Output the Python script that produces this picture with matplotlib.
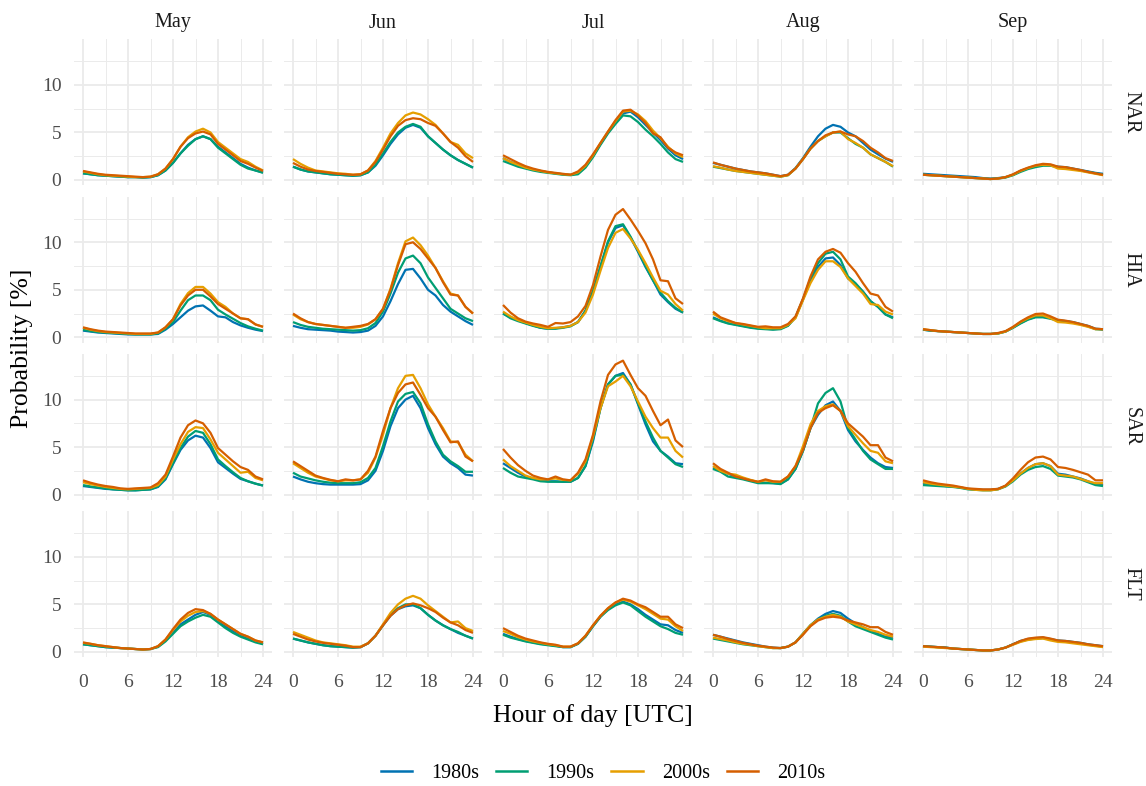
import matplotlib
matplotlib.use("Agg")
import matplotlib.pyplot as plt
from matplotlib.lines import Line2D

hours = list(range(25))
months = ["May", "Jun", "Jul", "Aug", "Sep"]
regions = ["NAR", "HIA", "SAR", "FLT"]
decades = ["1980s", "1990s", "2000s", "2010s"]
colors = ["#0072B2", "#009E73", "#E69F00", "#D55E00"]
x_ticks = [0, 6, 12, 18, 24]
y_ticks = [0, 5, 10]

# each panel: rows = 1980s, 1990s, 2000s, 2010s ; columns = hour 0..24
nar_may = [
    [0.7,0.6,0.5,0.45,0.4,0.35,0.3,0.3,0.25,0.3,0.5,1.0,1.8,2.8,3.7,4.3,4.6,4.3,3.5,2.9,2.3,1.7,1.3,1.0,0.8],
    [0.7,0.6,0.5,0.45,0.4,0.35,0.3,0.3,0.25,0.3,0.5,1.0,1.8,2.8,3.6,4.3,4.6,4.3,3.4,2.8,2.2,1.6,1.2,1.0,0.75],
    [0.9,0.75,0.6,0.5,0.45,0.4,0.35,0.3,0.3,0.35,0.6,1.2,2.2,3.5,4.5,5.1,5.4,5.0,4.0,3.4,2.8,2.2,1.9,1.4,1.0],
    [0.95,0.8,0.65,0.55,0.5,0.45,0.4,0.35,0.3,0.35,0.6,1.2,2.2,3.5,4.4,4.9,5.1,4.8,3.8,3.2,2.6,2.0,1.7,1.3,0.95],
]
nar_jun = [
    [1.4,1.1,0.9,0.8,0.7,0.6,0.55,0.5,0.45,0.5,0.8,1.5,2.6,3.8,4.8,5.5,5.8,5.5,4.6,3.9,3.2,2.6,2.1,1.7,1.3],
    [1.4,1.1,0.9,0.8,0.7,0.6,0.55,0.5,0.45,0.5,0.8,1.6,2.8,4.0,5.0,5.6,5.9,5.6,4.6,3.9,3.2,2.6,2.1,1.7,1.3],
    [2.2,1.7,1.3,1.0,0.9,0.8,0.7,0.65,0.55,0.6,1.0,2.0,3.4,4.9,6.0,6.8,7.1,6.9,6.4,5.8,4.9,4.0,3.7,2.8,2.3],
    [1.8,1.4,1.1,0.95,0.85,0.75,0.65,0.6,0.55,0.6,1.0,1.9,3.2,4.6,5.7,6.3,6.5,6.4,6.0,5.7,4.9,4.0,3.4,2.5,1.9],
]
nar_jul = [
    [2.3,1.9,1.6,1.3,1.1,0.95,0.8,0.7,0.6,0.55,0.7,1.4,2.5,3.8,5.0,6.1,7.0,7.2,6.6,5.8,5.0,4.2,3.3,2.6,2.2],
    [2.0,1.7,1.4,1.2,1.0,0.85,0.75,0.65,0.55,0.5,0.6,1.3,2.4,3.7,4.9,5.9,6.8,6.7,6.1,5.3,4.6,3.8,2.9,2.2,1.9],
    [2.3,1.9,1.6,1.3,1.1,0.95,0.8,0.7,0.6,0.55,0.8,1.5,2.6,3.9,5.1,6.2,7.2,7.3,6.9,6.2,5.2,4.4,3.5,2.8,2.4],
    [2.6,2.2,1.8,1.45,1.2,1.0,0.85,0.75,0.65,0.55,0.9,1.6,2.7,3.9,5.1,6.3,7.3,7.4,6.8,6.0,4.9,4.5,3.4,2.9,2.6],
]
nar_aug = [
    [1.8,1.6,1.4,1.2,1.05,0.9,0.8,0.7,0.55,0.4,0.55,1.25,2.3,3.5,4.6,5.4,5.8,5.6,5.0,4.6,3.9,3.2,2.7,2.25,1.9],
    [1.4,1.25,1.1,0.95,0.85,0.75,0.65,0.55,0.45,0.35,0.5,1.2,2.2,3.3,4.1,4.6,5.0,5.0,4.4,3.8,3.4,2.7,2.3,1.9,1.4],
    [1.45,1.3,1.1,0.95,0.85,0.75,0.65,0.55,0.45,0.35,0.5,1.2,2.2,3.3,4.1,4.6,5.0,5.1,4.3,3.9,3.4,2.7,2.3,1.9,1.45],
    [1.85,1.6,1.4,1.2,1.05,0.9,0.8,0.7,0.55,0.4,0.55,1.2,2.2,3.3,4.1,4.7,5.0,5.1,4.8,4.6,4.1,3.4,2.9,2.3,2.0],
]
nar_sep = [
    [0.65,0.6,0.55,0.5,0.45,0.4,0.35,0.3,0.2,0.15,0.2,0.3,0.55,0.95,1.25,1.45,1.6,1.55,1.4,1.35,1.2,1.05,0.9,0.75,0.65],
    [0.55,0.5,0.45,0.4,0.35,0.3,0.25,0.2,0.15,0.1,0.15,0.25,0.5,0.85,1.15,1.35,1.5,1.5,1.35,1.3,1.15,1.0,0.85,0.7,0.55],
    [0.55,0.5,0.45,0.4,0.35,0.3,0.25,0.2,0.15,0.1,0.15,0.3,0.55,0.95,1.25,1.5,1.6,1.55,1.2,1.15,1.05,0.95,0.8,0.65,0.5],
    [0.55,0.5,0.45,0.4,0.35,0.3,0.25,0.2,0.15,0.1,0.15,0.3,0.6,1.0,1.3,1.55,1.7,1.65,1.4,1.35,1.2,1.05,0.85,0.7,0.55],
]

hia_may = [
    [0.7,0.6,0.5,0.45,0.4,0.35,0.3,0.3,0.3,0.3,0.35,0.8,1.4,2.1,2.8,3.25,3.35,2.8,2.2,2.1,1.6,1.25,1.0,0.8,0.65],
    [0.8,0.65,0.55,0.5,0.45,0.4,0.35,0.3,0.3,0.3,0.4,0.9,1.6,2.8,3.9,4.4,4.4,3.9,2.9,2.4,1.95,1.5,1.15,0.9,0.7],
    [1.0,0.8,0.65,0.55,0.5,0.45,0.4,0.35,0.35,0.35,0.5,1.05,1.9,3.5,4.65,5.3,5.3,4.6,3.7,3.2,2.5,2.0,1.9,1.35,1.1],
    [1.05,0.85,0.7,0.6,0.55,0.5,0.45,0.4,0.4,0.4,0.5,1.05,1.9,3.35,4.4,5.0,5.0,4.3,3.5,3.0,2.5,2.0,1.9,1.35,1.1],
]
hia_jun = [
    [1.2,1.0,0.85,0.8,0.75,0.7,0.6,0.55,0.5,0.55,0.7,1.2,2.2,3.8,5.6,7.1,7.2,6.2,5.0,4.4,3.4,2.7,2.2,1.7,1.3],
    [1.6,1.3,1.1,1.0,0.9,0.85,0.8,0.75,0.7,0.75,0.95,1.5,2.7,4.6,6.8,8.3,8.6,7.8,6.3,5.2,4.1,3.0,2.5,2.0,1.7],
    [2.4,1.9,1.6,1.4,1.3,1.2,1.1,1.0,1.0,1.1,1.35,1.9,3.0,5.1,7.8,10.1,10.5,9.7,8.6,7.3,5.9,4.6,4.4,3.2,2.5],
    [2.5,2.0,1.6,1.4,1.3,1.2,1.1,1.0,1.1,1.2,1.4,1.9,3.0,5.0,7.6,9.8,10.0,9.3,8.3,7.3,5.8,4.5,4.4,3.2,2.5],
]
hia_jul = [
    [2.5,2.1,1.8,1.5,1.25,1.0,0.9,0.95,1.05,1.2,1.6,2.8,4.8,7.4,10.0,11.5,11.8,10.5,9.0,7.4,6.0,4.5,3.7,3.0,2.6],
    [2.5,2.0,1.7,1.45,1.2,1.0,0.9,0.9,1.0,1.15,1.6,2.8,4.9,7.5,10.1,11.7,11.9,10.6,9.1,7.5,6.0,4.7,3.8,3.1,2.6],
    [2.7,2.2,1.8,1.55,1.3,1.1,0.95,1.0,1.05,1.2,1.6,2.6,4.5,7.0,9.4,11.0,11.4,10.4,9.2,7.8,6.3,4.9,4.5,3.5,2.8],
    [3.4,2.6,2.0,1.65,1.45,1.3,1.1,1.5,1.45,1.6,2.2,3.3,5.5,8.5,11.3,12.9,13.5,12.4,11.2,9.9,8.2,6.0,5.9,4.1,3.5],
]
hia_aug = [
    [2.1,1.75,1.5,1.35,1.2,1.05,0.95,0.9,0.85,0.9,1.25,2.1,4.0,6.0,7.4,8.3,8.4,7.6,6.2,5.6,4.8,3.8,3.2,2.4,2.1],
    [2.0,1.7,1.45,1.3,1.15,1.0,0.9,0.85,0.8,0.85,1.2,2.1,4.0,6.2,7.8,8.8,9.0,8.2,6.4,5.7,4.8,3.8,3.2,2.4,2.0],
    [2.5,2.0,1.7,1.5,1.35,1.2,1.05,0.95,0.95,0.95,1.3,2.0,3.9,5.7,7.1,8.0,8.0,7.4,6.2,5.4,4.6,3.5,3.4,2.7,2.4],
    [2.7,2.1,1.8,1.5,1.4,1.25,1.1,1.15,1.05,1.05,1.4,2.2,4.1,6.4,8.2,9.0,9.3,8.9,7.8,6.9,5.7,4.6,4.4,3.2,2.7],
]
hia_sep = [
    [0.8,0.7,0.65,0.6,0.55,0.5,0.45,0.4,0.35,0.35,0.4,0.6,1.0,1.5,1.9,2.15,2.15,2.0,1.8,1.7,1.6,1.4,1.2,0.9,0.85],
    [0.8,0.7,0.65,0.6,0.55,0.5,0.45,0.4,0.35,0.35,0.4,0.6,1.0,1.45,1.85,2.1,2.1,1.95,1.75,1.7,1.55,1.35,1.15,0.85,0.8],
    [0.85,0.75,0.65,0.6,0.55,0.5,0.45,0.4,0.35,0.35,0.4,0.6,1.05,1.6,2.0,2.3,2.3,2.0,1.6,1.55,1.45,1.3,1.1,0.85,0.85],
    [0.85,0.75,0.65,0.6,0.55,0.5,0.45,0.4,0.35,0.35,0.45,0.65,1.1,1.65,2.1,2.45,2.5,2.2,1.85,1.75,1.6,1.4,1.2,0.9,0.85],
]

sar_may = [
    [0.9,0.8,0.7,0.6,0.55,0.5,0.45,0.45,0.5,0.55,0.8,1.6,3.2,4.7,5.7,6.2,6.0,4.9,3.4,2.8,2.2,1.65,1.4,1.15,0.95],
    [1.0,0.85,0.75,0.65,0.55,0.5,0.45,0.45,0.5,0.55,0.85,1.7,3.3,4.9,6.1,6.7,6.5,5.3,3.7,3.0,2.35,1.75,1.4,1.15,0.95],
    [1.3,1.1,0.95,0.8,0.7,0.6,0.55,0.6,0.65,0.7,1.0,1.9,3.7,5.3,6.6,7.1,7.0,5.8,4.4,3.7,3.0,2.3,2.4,1.75,1.5],
    [1.5,1.25,1.05,0.9,0.8,0.65,0.6,0.65,0.7,0.75,1.2,2.1,4.0,6.0,7.3,7.8,7.5,6.5,4.9,4.2,3.5,2.9,2.6,1.9,1.6],
]
sar_jun = [
    [1.9,1.6,1.35,1.2,1.1,1.05,1.05,1.05,1.05,1.1,1.5,2.5,4.6,7.2,9.1,10.0,10.4,9.1,7.0,5.3,4.0,3.3,2.8,2.1,2.0],
    [2.3,1.9,1.7,1.5,1.35,1.25,1.2,1.2,1.2,1.3,1.75,2.8,5.1,7.7,9.8,10.6,10.8,9.6,7.4,5.6,4.2,3.5,3.0,2.4,2.4],
    [3.3,2.8,2.3,1.9,1.7,1.5,1.4,1.5,1.5,1.6,2.3,3.9,6.3,9.1,11.2,12.5,12.6,11.2,9.5,8.2,7.0,5.6,5.5,4.2,3.5],
    [3.5,3.0,2.5,2.0,1.75,1.55,1.4,1.6,1.5,1.6,2.5,4.0,6.7,9.1,10.7,11.6,11.8,10.5,9.1,8.2,6.8,5.5,5.6,4.0,3.5],
]
sar_jul = [
    [3.3,2.8,2.3,1.9,1.7,1.5,1.4,1.4,1.35,1.35,1.75,3.0,5.6,9.1,11.6,12.5,12.8,11.6,9.5,7.4,5.6,4.6,4.0,3.3,3.2],
    [2.8,2.3,1.9,1.75,1.6,1.4,1.35,1.35,1.35,1.35,1.75,3.0,5.8,9.1,11.6,12.5,12.6,11.6,9.6,7.7,6.0,4.6,3.9,3.2,2.9],
    [3.7,3.0,2.5,2.0,1.75,1.6,1.6,1.7,1.55,1.5,2.2,3.5,6.1,9.1,11.4,11.9,12.5,11.4,9.8,8.2,7.0,6.0,6.0,4.6,3.9],
    [4.8,3.9,3.1,2.5,2.0,1.75,1.6,1.9,1.6,1.5,2.3,3.7,6.3,9.8,12.6,13.7,14.1,12.6,11.2,10.4,8.8,7.3,7.9,5.7,5.0],
]
sar_aug = [
    [2.8,2.5,2.2,1.9,1.7,1.5,1.3,1.25,1.2,1.15,1.6,2.7,4.6,7.0,8.4,9.4,9.8,8.8,6.8,5.6,4.7,3.9,3.3,2.9,2.8],
    [2.7,2.4,1.9,1.75,1.6,1.4,1.2,1.2,1.2,1.1,1.6,2.7,4.6,7.0,9.6,10.7,11.2,9.8,7.0,5.8,4.6,3.7,3.2,2.7,2.7],
    [3.0,2.5,2.2,2.1,1.8,1.55,1.35,1.5,1.35,1.35,1.9,3.0,5.1,7.4,8.8,9.3,9.5,8.8,7.2,6.3,5.4,4.6,4.4,3.5,3.3],
    [3.3,2.7,2.3,1.9,1.7,1.5,1.35,1.6,1.4,1.35,1.9,3.0,4.7,7.0,8.6,9.1,9.4,8.8,7.5,6.8,6.1,5.2,5.2,3.9,3.5],
]
sar_sep = [
    [1.2,1.1,1.0,0.9,0.85,0.75,0.6,0.55,0.5,0.5,0.6,0.9,1.5,2.2,2.8,3.2,3.3,3.0,2.2,2.1,1.9,1.7,1.4,1.1,1.0],
    [1.0,0.95,0.9,0.85,0.8,0.7,0.55,0.5,0.45,0.45,0.55,0.85,1.4,2.1,2.6,2.9,3.0,2.7,2.0,1.9,1.8,1.6,1.3,1.0,0.9],
    [1.3,1.15,1.05,0.95,0.85,0.75,0.6,0.5,0.45,0.45,0.55,0.9,1.5,2.2,2.8,3.2,3.3,3.0,2.1,2.0,1.9,1.65,1.4,1.2,1.2],
    [1.5,1.3,1.15,1.05,0.95,0.8,0.65,0.6,0.55,0.55,0.6,0.95,1.7,2.6,3.4,3.9,4.0,3.7,2.9,2.8,2.6,2.35,2.1,1.5,1.5],
]

flt_may = [
    [0.8,0.7,0.6,0.5,0.45,0.4,0.35,0.3,0.25,0.3,0.55,1.2,2.0,2.9,3.4,3.9,4.2,3.9,3.3,2.7,2.2,1.8,1.4,1.1,0.85],
    [0.8,0.7,0.6,0.5,0.45,0.4,0.35,0.3,0.25,0.3,0.5,1.1,1.9,2.7,3.2,3.6,3.9,3.7,3.1,2.5,2.0,1.6,1.3,1.0,0.8],
    [0.95,0.85,0.7,0.6,0.5,0.4,0.35,0.3,0.25,0.3,0.6,1.3,2.3,3.2,3.8,4.2,4.3,4.0,3.4,2.9,2.4,1.9,1.6,1.2,1.0],
    [1.0,0.85,0.7,0.6,0.5,0.4,0.35,0.3,0.25,0.3,0.6,1.3,2.4,3.4,4.1,4.5,4.4,4.0,3.4,2.9,2.4,1.9,1.6,1.2,1.0],
]
flt_jun = [
    [1.4,1.2,1.0,0.85,0.7,0.6,0.55,0.5,0.45,0.5,0.9,1.7,2.8,3.8,4.5,4.8,4.9,4.6,3.9,3.3,2.8,2.4,2.0,1.7,1.4],
    [1.4,1.2,1.0,0.85,0.7,0.6,0.55,0.5,0.45,0.5,0.9,1.7,2.8,3.9,4.6,5.0,5.0,4.6,3.9,3.3,2.8,2.4,2.1,1.7,1.4],
    [2.1,1.8,1.5,1.2,1.0,0.9,0.8,0.7,0.55,0.55,0.9,1.7,2.9,4.1,5.0,5.6,5.9,5.6,4.9,4.3,3.7,3.1,3.2,2.5,2.2],
    [1.9,1.6,1.3,1.1,0.95,0.85,0.75,0.65,0.5,0.5,0.9,1.7,2.8,3.8,4.5,4.9,5.1,4.9,4.6,4.2,3.6,3.1,2.8,2.3,2.0],
]
flt_jul = [
    [1.9,1.6,1.35,1.15,1.0,0.85,0.75,0.65,0.5,0.5,0.85,1.6,2.7,3.7,4.5,5.0,5.3,5.0,4.5,3.9,3.4,2.9,2.8,2.3,2.0],
    [1.8,1.5,1.3,1.1,0.95,0.8,0.7,0.6,0.5,0.5,0.85,1.6,2.7,3.7,4.4,4.9,5.2,4.9,4.3,3.7,3.2,2.7,2.4,2.0,1.8],
    [2.2,1.9,1.55,1.3,1.1,0.95,0.8,0.7,0.55,0.55,0.9,1.7,2.8,3.8,4.6,5.2,5.5,5.3,4.9,4.5,4.0,3.5,3.4,2.7,2.2],
    [2.5,2.1,1.7,1.4,1.2,1.0,0.85,0.75,0.55,0.55,0.9,1.7,2.8,3.8,4.6,5.2,5.6,5.4,5.0,4.7,4.2,3.7,3.7,2.9,2.5],
]
flt_aug = [
    [1.8,1.6,1.4,1.2,1.0,0.85,0.7,0.55,0.45,0.4,0.55,1.0,1.9,2.8,3.5,4.0,4.3,4.1,3.5,3.0,2.6,2.2,1.9,1.6,1.5],
    [1.4,1.25,1.1,0.95,0.8,0.7,0.6,0.5,0.4,0.4,0.55,1.0,1.9,2.8,3.4,3.8,4.0,3.8,3.2,2.7,2.4,2.1,1.8,1.5,1.3],
    [1.5,1.35,1.2,1.0,0.85,0.75,0.6,0.5,0.4,0.4,0.55,1.0,1.9,2.8,3.4,3.7,3.9,3.7,3.2,2.9,2.6,2.3,2.1,1.8,1.6],
    [1.8,1.6,1.35,1.15,0.95,0.8,0.65,0.55,0.45,0.4,0.55,1.0,1.8,2.7,3.3,3.6,3.7,3.6,3.3,3.1,2.9,2.6,2.6,2.1,1.8],
]
flt_sep = [
    [0.6,0.55,0.5,0.45,0.35,0.3,0.25,0.2,0.15,0.15,0.25,0.45,0.8,1.15,1.35,1.45,1.5,1.35,1.2,1.15,1.05,0.95,0.8,0.7,0.6],
    [0.6,0.55,0.5,0.45,0.35,0.3,0.25,0.2,0.15,0.15,0.25,0.45,0.8,1.1,1.3,1.4,1.45,1.3,1.15,1.1,1.0,0.9,0.75,0.65,0.55],
    [0.55,0.5,0.45,0.4,0.35,0.3,0.25,0.2,0.15,0.15,0.25,0.45,0.75,1.05,1.25,1.35,1.4,1.2,1.05,1.0,0.9,0.8,0.7,0.6,0.5],
    [0.6,0.55,0.5,0.45,0.35,0.3,0.25,0.2,0.15,0.15,0.25,0.45,0.8,1.15,1.4,1.5,1.55,1.4,1.2,1.15,1.05,0.95,0.8,0.7,0.6],
]

panels = [
    [nar_may, nar_jun, nar_jul, nar_aug, nar_sep],
    [hia_may, hia_jun, hia_jul, hia_aug, hia_sep],
    [sar_may, sar_jun, sar_jul, sar_aug, sar_sep],
    [flt_may, flt_jun, flt_jul, flt_aug, flt_sep],
]

plt.rcParams['font.family'] = ['Liberation Serif', 'DejaVu Serif']

W, H = 1146, 786
fig = plt.figure(figsize=(W / 100, H / 100), dpi=100)

left0, col_pitch, pw = 74, 210, 198
top0, row_pitch, ph = 39.4, 157.3, 145.8
grid_col = "#EBEBEB"
tick_col = "#4D4D4D"

for r, region in enumerate(regions):
    for c, month in enumerate(months):
        x0 = left0 + c * col_pitch
        y0 = top0 + r * row_pitch
        ax = fig.add_axes([x0 / W, 1 - (y0 + ph) / H, pw / W, ph / H])
        ax.set_xlim(-1.2, 25.2)
        ax.set_ylim(-0.55, 14.8)
        ax.set_xticks(x_ticks)
        ax.set_xticks([3, 9, 15, 21], minor=True)
        ax.set_yticks(y_ticks)
        ax.set_yticks([2.5, 7.5, 12.5], minor=True)
        ax.grid(which='major', color=grid_col, lw=1.3)
        ax.grid(which='minor', color=grid_col, lw=0.7)
        ax.set_axisbelow(True)
        for s in ax.spines.values():
            s.set_visible(False)
        ax.tick_params(which='both', length=0, labelsize=14, labelcolor=tick_col)
        ax.tick_params(axis='y', pad=9)
        ax.tick_params(axis='x', pad=12)
        if c != 0:
            ax.set_yticklabels([])
        if r != len(regions) - 1:
            ax.set_xticklabels([])
        for k, dec in enumerate(decades):
            ax.plot(hours, panels[r][c][k], color=colors[k], lw=1.6,
                    solid_joinstyle='round', solid_capstyle='butt')
        if r == 0:
            fig.text((x0 + pw / 2) / W, 1 - 23 / H, month, ha='center', va='center',
                     fontsize=14.5, color='#1A1A1A')
        if c == len(months) - 1:
            fig.text(1131 / W, 1 - (y0 + ph / 2) / H, region, ha='center', va='center',
                     rotation=-90, fontsize=14.5, color='#1A1A1A')

fig.text(593 / W, 1 - 716 / H, "Hour of day [UTC]", ha='center', va='center', fontsize=18.5)
fig.text(22 / W, 1 - 348 / H, "Probability [%]", ha='center', va='center',
         rotation=90, fontsize=18.5)

handles = [Line2D([0], [0], color=col, lw=1.8) for col in colors]
fig.legend(handles, decades, loc='center', bbox_to_anchor=(603 / W, 1 - 773 / H),
           ncol=4, frameon=False, fontsize=14.5, handlelength=1.55,
           handletextpad=0.95, columnspacing=0.85)

fig.savefig("out.png", dpi=100)
